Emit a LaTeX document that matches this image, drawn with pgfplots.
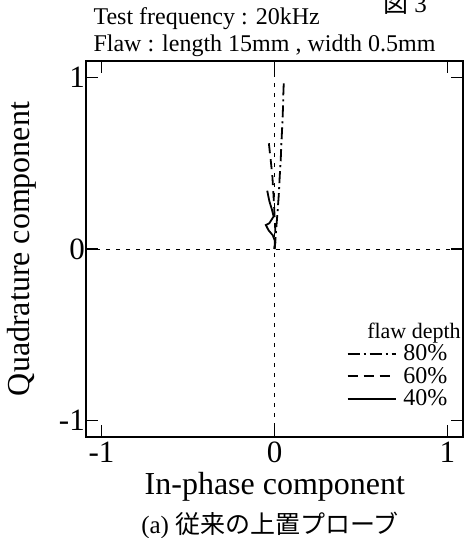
\documentclass[border=0pt]{standalone}
\usepackage{pgfplots}
\pgfplotsset{compat=1.18}
\usepackage{fontspec}
\setmainfont{Liberation Serif}
\newfontfamily\cjk{Noto Sans CJK JP}
\begin{document}
\begin{tikzpicture}
\begin{axis}[
  at={(86pt,101pt)}, anchor=south west,
  scale only axis, width=377pt, height=376pt,
  xmin=-1.09, xmax=1.09, ymin=-1.096, ymax=1.096,
  xtick={-1,0,1}, ytick={-1,0,1},
  tick align=inside, major tick length=12pt,
  axis line style={line width=1.5pt},
  tick style={line width=1.5pt, black},
  /pgf/number format/assume math mode=true,
  ticklabel style={font=\fontsize{31}{31}\selectfont, inner sep=1pt},
  xticklabel style={yshift=-4pt},
  xlabel={In-phase component},
  ylabel={Quadrature component},
  xlabel style={font=\fontsize{32}{34}\selectfont, at={(axis description cs:0.501,-0.133)}, anchor=center},
  ylabel style={font=\fontsize{32}{34}\selectfont, at={(axis description cs:-0.17,0.5)}, anchor=center},
  legend style={draw=none, fill=none, at={(rel axis cs:0.962,0.248)}, anchor=north east,
    font=\fontsize{24}{24}\selectfont, inner sep=0pt, row sep=3pt,
    nodes={inner sep=1pt}},
  legend cell align=left,
  legend image code/.code={\draw[#1] (0pt,0pt) -- (48pt,0pt); \path (54pt,0pt);},
  clip=true,
]
\addplot[black, line width=0.9pt, dash pattern=on 4pt off 6pt, forget plot] coordinates {(-1.09,0) (1.09,0)};
\addplot[black, line width=0.9pt, dash pattern=on 4pt off 6pt, forget plot] coordinates {(0,-1.096) (0,1.096)};
\addplot[black, line width=1.8pt, dash pattern=on 12pt off 4pt on 2pt off 4pt] coordinates {
(0,0) (0.005,0.05) (0.01,0.12) (0.018,0.22) (0.025,0.32) (0.03,0.42) (0.036,0.52) (0.04,0.62) (0.045,0.72) (0.049,0.82) (0.051,0.9) (0.054,0.98)};
\addlegendentry{80\%}
\addplot[black, line width=1.8pt, dash pattern=on 10pt off 6pt] coordinates {
(0,0) (0.005,0.1) (0.0,0.2) (-0.005,0.3) (-0.012,0.42) (-0.02,0.5) (-0.033,0.62)};
\addlegendentry{60\%}
\addplot[black, line width=1.8pt] coordinates {
(0,0) (0.005,0.04) (-0.01,0.08) (-0.035,0.11) (-0.05,0.14) (-0.03,0.15) (-0.005,0.19) (-0.015,0.23) (-0.03,0.28) (-0.042,0.34)};
\addlegendentry{40\%}
\node[font=\fontsize{22}{22}\selectfont, anchor=base] at (rel axis cs:0.87,0.262) {flaw depth};
\end{axis}
\node[anchor=base west, font=\fontsize{24}{24}\selectfont] at (90pt,513pt) {Test frequency : 20kHz};
\node[anchor=base west, font=\fontsize{24}{24}\selectfont] at (90pt,486pt) {Flaw : length 15mm , width 0.5mm};
\node[anchor=base west, font=\fontsize{25}{25}\selectfont, overlay, inner sep=0pt] at (383pt,525pt) {{\cjk 図} 3};
\node[font=\fontsize{25}{25}\selectfont] at (270pt,13pt) {(a) {\cjk 従来の上置プローブ}};
\pgfresetboundingbox
\path[use as bounding box] (0,0) rectangle (465pt,538pt);
\end{tikzpicture}
\end{document}
